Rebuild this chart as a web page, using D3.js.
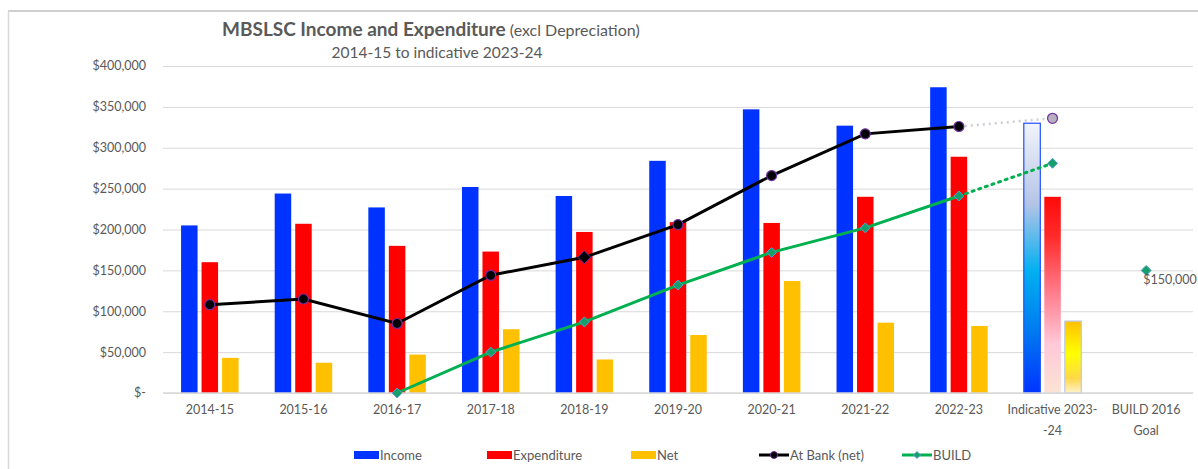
<!DOCTYPE html>
<meta charset="utf-8">
<style>
body { margin: 0; background: #fff; }
text { font-family: Lato, "Open Sans", sans-serif; fill: #595959; }
.grid line { stroke: #d9d9d9; stroke-width: 1px; }
.grid path { display: none; }
</style>
<body>
<script src="https://d3js.org/d3.v7.min.js"></script>
<script>
// chart data
var categories = ["2014-15", "2015-16", "2016-17", "2017-18", "2018-19", "2019-20",
                  "2020-21", "2021-22", "2022-23", "Indicative 2023-24", "BUILD 2016 Goal"];
var income      = [205000, 244000, 227000, 252000, 241000, 284000, 347000, 327000, 374000, 330000, null];
var expenditure = [160000, 207000, 180000, 173000, 197000, 209000, 208000, 240000, 289000, 240000, null];
var net         = [43000, 37000, 47000, 78000, 41000, 71000, 137000, 86000, 82000, 88000, null];
var atBank      = [108000, 115000, 85000, 144000, 166000, 206000, 266000, 317000, 326000, 336000, null];
var build       = [null, null, 0, 50000, 87000, 132000, 172000, 202000, 241000, 281000, 150000];
var yTicks = [0, 50000, 100000, 150000, 200000, 250000, 300000, 350000, 400000];

var W = 1198, H = 469;
var margin = {top: 66, right: 5, bottom: 76, left: 163};

var svg = d3.select("body").append("svg")
    .attr("width", W).attr("height", H);

// gradients for the indicative year
var defs = svg.append("defs");
function grad(id, stops) {
    var g = defs.append("linearGradient").attr("id", id)
        .attr("x1", 0).attr("y1", 0).attr("x2", 0).attr("y2", 1);
    stops.forEach(function(s) {
        g.append("stop").attr("offset", s[0]).attr("stop-color", s[1]);
    });
}
grad("gBlue", [[0, "#f2f4fb"], [0.3, "#b4c4e6"], [0.55, "#00b0f0"], [0.78, "#0078f0"], [1, "#0033ff"]]);
grad("gRed", [[0, "#ff0a0a"], [0.2, "#ff2a2a"], [0.5, "#ff8090"], [0.75, "#ffc8d8"], [1, "#fbe3d4"]]);
grad("gYel", [[0, "#ffc000"], [0.45, "#ffff00"], [0.8, "#ffd84a"], [1, "#fff2cc"]]);

// frame lines
svg.append("line").attr("x1", 8).attr("x2", W).attr("y1", 11).attr("y2", 11)
    .attr("stroke", "#bfbfbf").attr("stroke-width", 1.5);
svg.append("line").attr("x1", 8.5).attr("x2", 8.5).attr("y1", 11).attr("y2", H)
    .attr("stroke", "#d9d9d9").attr("stroke-width", 1.5);

var x = d3.scaleBand().domain(categories)
    .range([margin.left, W - margin.right]).paddingInner(0).paddingOuter(0);
var y = d3.scaleLinear().domain([0, 400000]).range([H - margin.bottom, margin.top]);

// gridlines
svg.append("g").attr("class", "grid")
    .attr("transform", "translate(" + margin.left + ",0)")
    .call(d3.axisLeft(y).tickValues(yTicks).tickSize(-(W - margin.right - margin.left)).tickFormat(""));

// y labels
var fmt = d3.format(",");
svg.append("g").selectAll("text").data(yTicks).enter().append("text")
    .attr("x", 146).attr("y", function(d) { return y(d); })
    .attr("dy", "0.35em").attr("text-anchor", "end")
    .style("font-size", "12.5px")
    .text(function(d) { return d === 0 ? "$-" : "$" + fmt(d); });

// titles
var t = svg.append("text").attr("x", 222).attr("y", 36);
t.append("tspan").style("font-size", "19px").style("font-weight", "bold").text("MBSLSC Income and Expenditure");
t.append("tspan").style("font-size", "16px").text(" (excl Depreciation)");
svg.append("text").attr("x", 437).attr("y", 58).attr("text-anchor", "middle")
    .style("font-size", "15.5px").text("2014-15 to indicative 2023-24");

// bars
var bw = 16.5, step = 20.5;
var series = [
    {vals: income, color: "#0033ff", grad: "url(#gBlue)", off: -1},
    {vals: expenditure, color: "#ff0000", grad: "url(#gRed)", off: 0},
    {vals: net, color: "#ffc000", grad: "url(#gYel)", off: 1}
];
series.forEach(function(s) {
    svg.append("g").selectAll("rect")
        .data(categories.map(function(c, i) { return {c: c, v: s.vals[i], i: i}; })
            .filter(function(d) { return d.v != null; }))
        .enter().append("rect")
        .attr("x", function(d) { return x(d.c) + x.bandwidth() / 2 + s.off * step - bw / 2; })
        .attr("y", function(d) { return y(d.v); })
        .attr("width", bw)
        .attr("height", function(d) { return y(0) - y(d.v); })
        .attr("fill", function(d) { return d.i === 9 ? s.grad : s.color; })
        .attr("stroke", function(d) {
            if (d.i !== 9) return "none";
            return s.off === -1 ? "#1f4fff" : (s.off === 1 ? "#bcc8e8" : "none");
        })
        .attr("stroke-width", 1.2);
});

// axis line
svg.append("line").attr("x1", margin.left).attr("x2", W - margin.right)
    .attr("y1", y(0)).attr("y2", y(0)).attr("stroke", "#d9d9d9").attr("stroke-width", 1.5);

// x labels
var xl = svg.append("g");
categories.forEach(function(c) {
    var cx = x(c) + x.bandwidth() / 2;
    var lines = c === "Indicative 2023-24" ? ["Indicative 2023-", "-24"] :
                c === "BUILD 2016 Goal" ? ["BUILD 2016", "Goal"] : [c];
    lines.forEach(function(l, j) {
        xl.append("text").attr("x", cx).attr("y", 414 + j * 21)
            .attr("text-anchor", "middle").style("font-size", "12.5px").text(l);
    });
});

function cxOf(i) { return x(categories[i]) + x.bandwidth() / 2; }

// At Bank line
var line = d3.line().x(function(d) { return cxOf(d.i); }).y(function(d) { return y(d.v); });
var bankPts = atBank.map(function(v, i) { return {v: v, i: i}; }).filter(function(d) { return d.v != null; });
svg.append("path").datum(bankPts.slice(0, 9)).attr("d", line)
    .attr("fill", "none").attr("stroke", "#000").attr("stroke-width", 3);
svg.append("path").datum(bankPts.slice(8, 10)).attr("d", line)
    .attr("fill", "none").attr("stroke", "#d0ccd4").attr("stroke-width", 2.5).attr("stroke-dasharray", "2,4");

// BUILD line
var buildPts = build.map(function(v, i) { return {v: v, i: i}; }).filter(function(d) { return d.v != null; });
svg.append("path").datum(buildPts.slice(0, 7)).attr("d", line)
    .attr("fill", "none").attr("stroke", "#00b050").attr("stroke-width", 3);
svg.append("path").datum(buildPts.slice(6, 8)).attr("d", line)
    .attr("fill", "none").attr("stroke", "#00b050").attr("stroke-width", 3).attr("stroke-dasharray", "2,5")
    .attr("stroke-linecap", "round");

// markers
function diamondPath(s) { return "M0," + (-s) + "L" + s + ",0L0," + s + "L" + (-s) + ",0Z"; }
bankPts.forEach(function(d) {
    if (d.i === 4) {
        svg.append("path").attr("d", diamondPath(6.5))
            .attr("transform", "translate(" + cxOf(d.i) + "," + y(d.v) + ")")
            .attr("fill", "#000").attr("stroke", "#7030a0").attr("stroke-width", 1);
    } else {
        svg.append("circle").attr("cx", cxOf(d.i)).attr("cy", y(d.v)).attr("r", 5)
            .attr("fill", d.i === 9 ? "#b8b0c0" : "#000")
            .attr("stroke", "#7030a0").attr("stroke-width", 1.2);
    }
});
buildPts.forEach(function(d) {
    svg.append("path").attr("d", diamondPath(5))
        .attr("transform", "translate(" + cxOf(d.i) + "," + y(d.v) + ")")
        .attr("fill", "#14a068").attr("stroke", "#5b9bd5").attr("stroke-width", 1);
});
svg.append("text").attr("x", cxOf(10) - 3).attr("y", y(150000) + 14)
    .style("font-size", "12.5px").text("$" + fmt(build[10]));

// legend
var lg = svg.append("g");
var legendItems = [
    {name: "Income", x: 354, type: "rect", color: "#0033ff"},
    {name: "Expenditure", x: 487, type: "rect", color: "#ff0000"},
    {name: "Net", x: 631, type: "rect", color: "#ffc000"},
    {name: "At Bank (net)", x: 759, type: "line", color: "#000"},
    {name: "BUILD", x: 902, type: "line", color: "#00b050"}
];
legendItems.forEach(function(it) {
    if (it.type === "rect") {
        lg.append("rect").attr("x", it.x).attr("y", 451).attr("width", 25).attr("height", 8).attr("fill", it.color);
    } else {
        lg.append("line").attr("x1", it.x).attr("x2", it.x + 30).attr("y1", 455).attr("y2", 455)
            .attr("stroke", it.color).attr("stroke-width", 3);
        if (it.name === "BUILD") {
            lg.append("path").attr("d", diamondPath(3.5)).attr("transform", "translate(" + (it.x + 15) + ",455)")
                .attr("fill", "#14a068").attr("stroke", "#5b9bd5");
        } else {
            lg.append("circle").attr("cx", it.x + 15).attr("cy", 455).attr("r", 3.5)
                .attr("fill", "#000").attr("stroke", "#7030a0");
        }
    }
    lg.append("text").attr("x", it.x + (it.type === "rect" ? 26 : 31)).attr("y", 460)
        .style("font-size", "13px").text(it.name);
});
</script>
</body>
